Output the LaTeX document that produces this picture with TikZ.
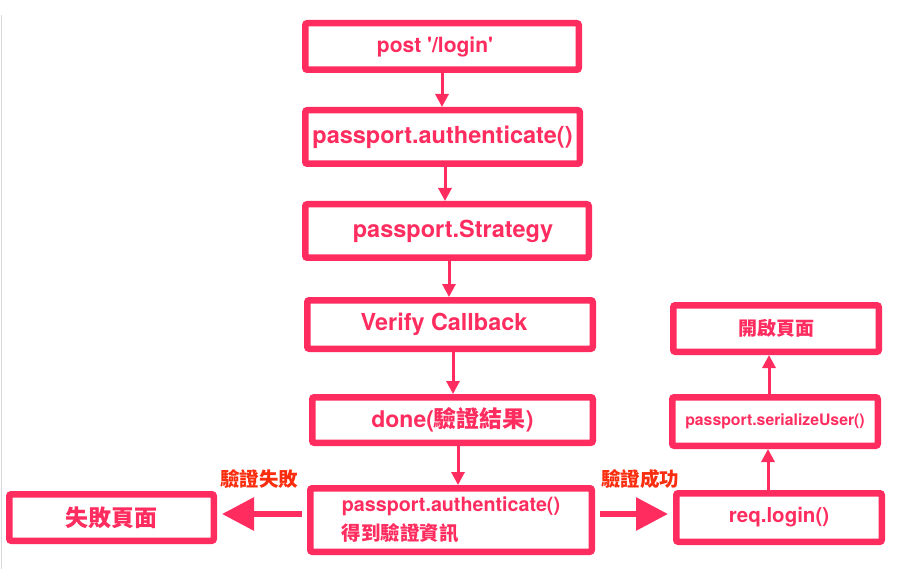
\documentclass[tikz,border=0pt]{standalone}
\usepackage{fontspec}
\setmainfont{TeX Gyre Heros}
\newfontfamily\cjk{Noto Sans CJK TC}
\usepackage{tikz}
\usetikzlibrary{arrows.meta,calc}
\definecolor{boxpink}{RGB}{255,45,95}
\definecolor{labelred}{RGB}{250,45,15}
\newcommand{\boxline}{6.5pt}
\newcommand{\fsz}[1]{\fontsize{#1}{30pt}\selectfont}

\begin{document}
\begin{tikzpicture}[x=1pt,y=-1pt,
  box/.style={draw=boxpink, line width=\boxline, rounded corners=2pt, fill=white,
    text=boxpink, font=\bfseries, inner sep=0pt},
  arr/.style={draw=boxpink, line width=3pt, -{Triangle[length=13pt,width=13pt]}},
  bigarr/.style={draw=boxpink, line width=6pt, -{Triangle[length=32pt,width=32pt]},
    shorten <=5pt, shorten >=5pt},
  lab/.style={text=labelred, font=\bfseries\cjk\fsz{19.5}}]
\useasboundingbox (0,0) rectangle (899,569);
\draw[black!15, line width=1pt] (1,15) -- (1,569);
% main column
\node[box, minimum width=280-\boxline, minimum height=53-\boxline] (1) at (442,46.5) {\fsz{21}post \textquotesingle/login\textquotesingle\kern14pt};
\node[box, minimum width=281-\boxline, minimum height=60-\boxline] (2) at (442.5,137) {\fsz{23.5}passport.authenticate()};
\node[box, minimum width=290-\boxline, minimum height=60-\boxline] (3) at (447,231) {\fsz{23.5}\kern12pt passport.Strategy};
\node[box, minimum width=292-\boxline, minimum height=55-\boxline] (4) at (450,324.5) {\fsz{23.4}Verify Callback\kern12pt};
\node[box, minimum width=287-\boxline, minimum height=52-\boxline] (5) at (452.5,420) {\fsz{23}done({\cjk 驗證結果})};
\node[box, minimum width=288-\boxline, minimum height=70-\boxline, align=left] (6) at (451,520)
  {\fsz{19.7}passport.authenticate()\\[7pt]{\cjk\fsz{19.5}得到驗證資訊}};
% failure side
\node[box, minimum width=211-\boxline, minimum height=53-\boxline] (7) at (111.5,517.5) {\cjk\fsz{23}失敗頁面};
% success side
\node[box, minimum width=212-\boxline, minimum height=55-\boxline] (8) at (779,517.5) {\fsz{20.5}req.login()};
\node[box, minimum width=212-\boxline, minimum height=55-\boxline] (9) at (775,421.5) {\fsz{15.8}passport.serializeUser()};
\node[box, minimum width=212-\boxline, minimum height=53-\boxline] (10) at (776,328.5) {\cjk\fsz{19}開啟頁面};
\draw[arr] (1.south) -- (1.south |- 2.north);
\draw[arr] ([xshift=2.5pt]2.south) -- ([xshift=2.5pt]2.south |- 3.north);
\draw[arr] ([xshift=2pt]3.south) -- ([xshift=2pt]3.south |- 4.north);
\draw[arr] ([xshift=3pt]4.south) -- ([xshift=3pt]4.south |- 5.north);
\draw[arr] ([xshift=5.5pt]5.south) -- ([xshift=5.5pt]5.south |- 6.north);
\draw[arr] ([xshift=-11pt]8.north) -- ([xshift=-11pt]8.north |- 9.south);
\draw[arr] ([xshift=-6pt]9.north) -- ([xshift=-6pt]9.north |- 10.south);
\coordinate (fromL) at ([yshift=6pt]6.west);
\coordinate (fromR) at ([yshift=6pt]6.east);
\draw[bigarr] (fromL) -- (fromL -| 7.east);
\draw[bigarr] (fromR) -- (fromR -| 8.west);
\node[lab] (failtxt) at (259,479) {驗證失敗};
\node[lab] (oktxt) at (640,479) {驗證成功};
\end{tikzpicture}
\end{document}
